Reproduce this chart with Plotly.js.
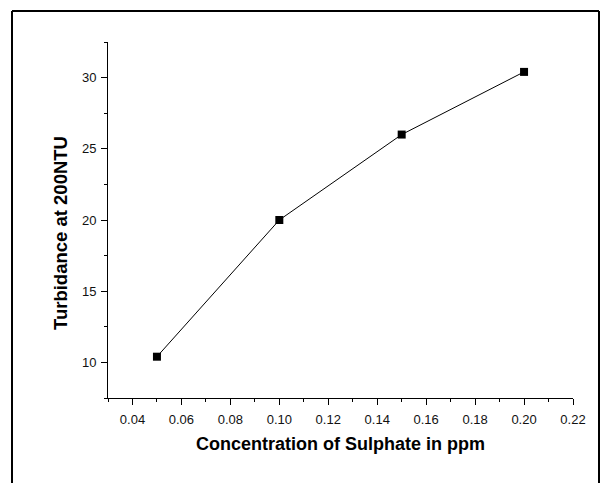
<!DOCTYPE html>
<html>
<head>
<meta charset="utf-8">
<script src="https://cdn.plot.ly/plotly-3.0.1.min.js"></script>
<style>html,body{margin:0;padding:0;background:#fff;}#chart{width:609px;height:483px;}</style>
</head>
<body>
<div id="chart"></div>
<script>
const concentration = [0.05, 0.10, 0.15, 0.20];
const turbidance = [10.4, 20.0, 26.0, 30.4];
const xTitle = "Concentration of Sulphate in ppm";
const yTitle = "Turbidance at 200NTU";

const L = 108, R = 573, T = 42, B = 398, W = 609, H = 483;
const px = x => (x - L) / (R - L);
const py = y => (B - y) / (B - T);

const trace = {
  x: concentration, y: turbidance, type: 'scatter', mode: 'lines+markers',
  line: {color: '#000', width: 1},
  marker: {symbol: 'square', size: 8, color: '#000'},
  cliponaxis: false, hoverinfo: 'skip'
};

const frameLine = {color: '#000', width: 2};
const fam = 'Liberation Sans, Arial, sans-serif';
const layout = {
  width: W, height: H,
  margin: {l: L, r: W - R, t: T, b: H - B},
  paper_bgcolor: '#fff', plot_bgcolor: '#fff',
  showlegend: false,
  font: {family: fam, color: '#000'},
  xaxis: {
    range: [0.03, 0.22], dtick: 0.02, tick0: 0.04, tickformat: '.2f',
    showgrid: false, zeroline: false, showline: true, linecolor: '#000', linewidth: 1,
    ticks: 'outside', ticklen: 6, tickwidth: 1, tickcolor: '#000',
    tickfont: {size: 13, color: '#111'}, ticklabelstandoff: 3,
    minor: {dtick: 0.01, tick0: 0.03, ticks: 'outside', ticklen: 3, tickcolor: '#000', tickwidth: 1, showgrid: false},
    title: {text: xTitle, font: {size: 18, family: fam, weight: 'bold', color: '#000'}, standoff: 11},
    automargin: false
  },
  yaxis: {
    range: [7.5, 32.5], dtick: 5, tick0: 10,
    showgrid: false, zeroline: false, showline: true, linecolor: '#000', linewidth: 1,
    ticks: 'outside', ticklen: 6, tickwidth: 1, tickcolor: '#000',
    tickfont: {size: 13, color: '#111'}, ticklabelstandoff: 2,
    minor: {dtick: 2.5, tick0: 7.5, ticks: 'outside', ticklen: 3, tickcolor: '#000', tickwidth: 1, showgrid: false},
    automargin: false
  },
  annotations: [
    {text: yTitle, xref: 'paper', yref: 'paper', x: px(61), y: py(233), xanchor: 'center', yanchor: 'middle',
     textangle: -90, showarrow: false, font: {size: 18.5, family: fam, weight: 'bold', color: '#000'}}
  ],
  shapes: [
    {type: 'line', xref: 'paper', yref: 'paper', x0: px(12), x1: px(12), y0: py(11), y1: py(490), line: frameLine},
    {type: 'line', xref: 'paper', yref: 'paper', x0: px(12), x1: px(599), y0: py(11), y1: py(11), line: frameLine},
    {type: 'line', xref: 'paper', yref: 'paper', x0: px(599), x1: px(599), y0: py(11), y1: py(490), line: frameLine}
  ]
};

Plotly.newPlot('chart', [trace], layout, {staticPlot: true, displayModeBar: false});
</script>
</body>
</html>
